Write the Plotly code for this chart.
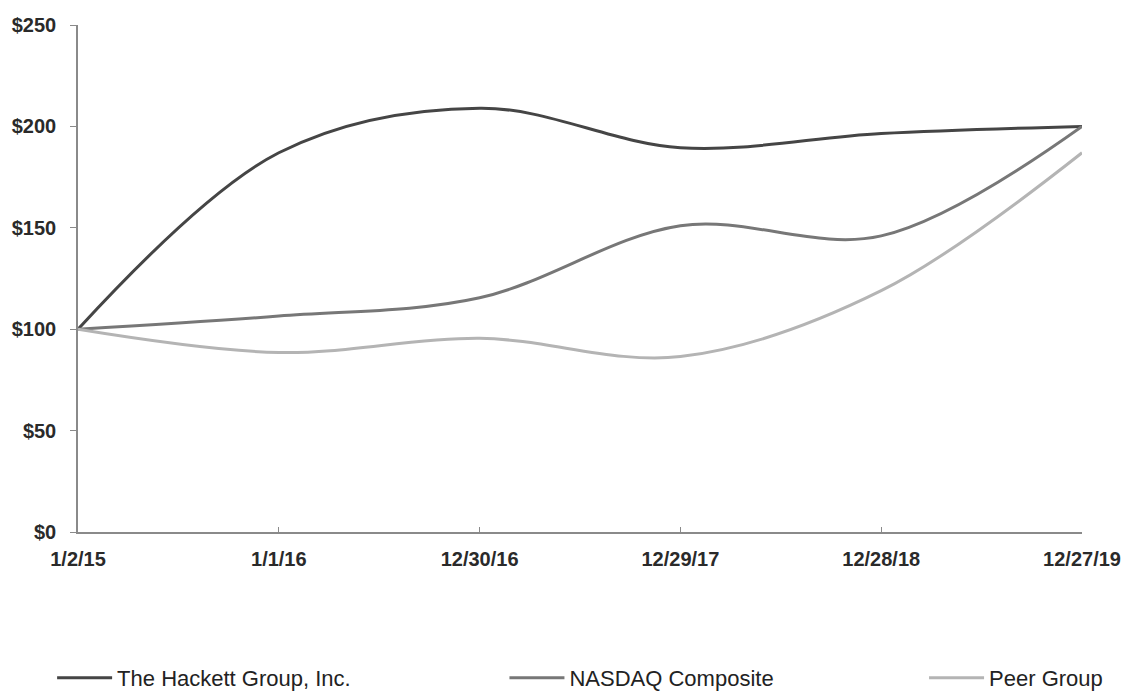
import plotly.graph_objects as go

dates = ["1/2/15", "1/1/16", "12/30/16", "12/29/17", "12/28/18", "12/27/19"]
hackett = [100, 187, 209, 189.5, 196.5, 200]
nasdaq = [100, 106.5, 115.5, 151, 146, 200]
peer = [100, 88.5, 95.5, 86.5, 119, 187]

y_ticks = [0, 50, 100, 150, 200, 250]
y_labels = ["$0", "$50", "$100", "$150", "$200", "$250"]

series = [
    ("The Hackett Group, Inc.", hackett, "#454545", "legend", 0.0462),
    ("NASDAQ Composite", nasdaq, "#777777", "legend2", 0.4472),
    ("Peer Group", peer, "#b4b4b4", "legend3", 0.8192),
]

fig = go.Figure()
for name, vals, col, leg, _ in series:
    fig.add_trace(go.Scatter(
        x=list(range(len(dates))), y=vals, name=name, mode="lines",
        line=dict(color=col, width=3, shape="spline", smoothing=1.0),
        legend=leg,
    ))

legend_style = dict(
    orientation="h", xref="container", yref="container",
    y=14 / 692, xanchor="left", yanchor="middle",
    itemwidth=55, bgcolor="rgba(0,0,0,0)",
    font=dict(family="Liberation Sans, Arial, sans-serif", size=22, color="#222222"),
)
legends = {}
for name, vals, col, leg, xpos in series:
    legends[leg] = dict(legend_style, x=xpos)

fig.update_layout(
    width=1128, height=692,
    margin=dict(l=78, r=46, t=25, b=160, autoexpand=False),
    paper_bgcolor="white", plot_bgcolor="white",
    showlegend=True,
    **legends,
    xaxis=dict(
        range=[0, 5], tickmode="array", tickvals=list(range(len(dates))), ticktext=dates,
        showgrid=False, zeroline=False, showline=True, linecolor="#8a8a8a", linewidth=1.5,
        ticks="inside", ticklen=5, tickcolor="#8a8a8a", ticklabelstandoff=8,
        automargin=False,
        tickfont=dict(family="Liberation Sans, Arial, sans-serif", size=20, color="#2a2a2a", weight="bold"),
    ),
    yaxis=dict(
        range=[0, 250], tickmode="array", tickvals=y_ticks, ticktext=y_labels,
        showgrid=False, zeroline=False, showline=True, linecolor="#8a8a8a", linewidth=1.5,
        ticks="outside", ticklen=6, tickcolor="#8a8a8a", ticklabelstandoff=10,
        automargin=False,
        tickfont=dict(family="Liberation Sans, Arial, sans-serif", size=20, color="#2a2a2a", weight="bold"),
    ),
)

fig.write_html("out.html")
